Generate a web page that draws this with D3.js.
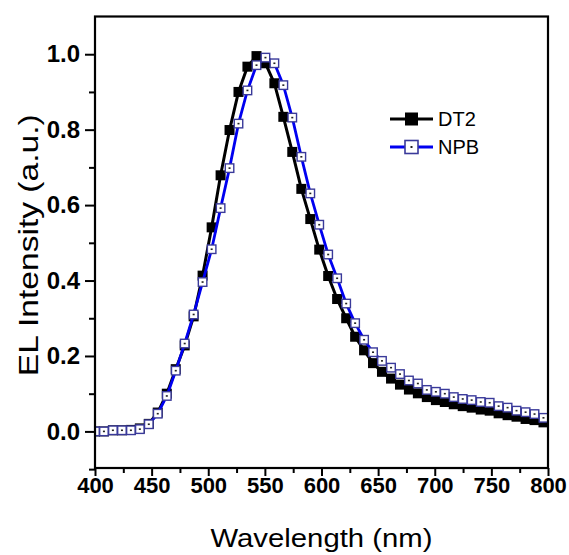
<!DOCTYPE html>
<html>
<head>
<meta charset="utf-8">
<script src="https://cdn.jsdelivr.net/npm/d3@7"></script>
<style>
  html, body { margin: 0; padding: 0; background: #fff; }
  svg { display: block; }
</style>
</head>
<body>
<svg id="chart" width="569" height="555"></svg>
<script>
// ---------------- data ----------------
const wavelength = [400, 407.9, 415.8, 423.8, 431.7, 439.6, 447.5, 455.4, 463.4, 471.3,
  479.2, 487.1, 495.0, 503.0, 510.9, 518.8, 526.7, 534.6, 542.6, 550.5,
  558.4, 566.3, 574.2, 582.2, 590.1, 598.0, 605.9, 613.8, 621.8, 629.7,
  637.6, 645.5, 653.4, 661.4, 669.3, 677.2, 685.1, 693.0, 701.0, 708.9,
  716.8, 724.7, 732.6, 740.6, 748.5, 756.4, 764.3, 772.2, 780.2, 788.1, 796.0];

const dt2 = [0.000, 0.000, 0.003, 0.003, 0.004, 0.008, 0.020, 0.050, 0.100, 0.165,
  0.228, 0.305, 0.413, 0.541, 0.679, 0.799, 0.900, 0.967, 0.995, 0.976,
  0.923, 0.834, 0.741, 0.643, 0.563, 0.482, 0.412, 0.351, 0.300, 0.251,
  0.215, 0.181, 0.158, 0.140, 0.124, 0.111, 0.101, 0.091, 0.083, 0.078,
  0.072, 0.067, 0.063, 0.058, 0.055, 0.048, 0.043, 0.039, 0.033, 0.030, 0.024];

const npb = [0.000, 0.000, 0.003, 0.003, 0.003, 0.006, 0.019, 0.047, 0.094, 0.161,
  0.233, 0.310, 0.396, 0.483, 0.592, 0.698, 0.816, 0.904, 0.971, 0.991,
  0.976, 0.918, 0.832, 0.728, 0.631, 0.548, 0.469, 0.406, 0.339, 0.287,
  0.243, 0.210, 0.187, 0.169, 0.152, 0.135, 0.127, 0.110, 0.105, 0.100,
  0.091, 0.086, 0.083, 0.078, 0.076, 0.067, 0.063, 0.055, 0.051, 0.046, 0.036];

const seriesNames = ["DT2", "NPB"];
const xMajorTicks = [400, 450, 500, 550, 600, 650, 700, 750, 800];
const xMinorTicks = [425, 475, 525, 575, 625, 675, 725, 775];
const yMajorTicks = [0.0, 0.2, 0.4, 0.6, 0.8, 1.0];
const yMinorTicks = [-0.1, 0.1, 0.3, 0.5, 0.7, 0.9];
const xTitle = "Wavelength (nm)";
const yTitle = "EL Intensity (a.u.)";

// ---------------- layout ----------------
const svg = d3.select("#chart");
const L = 95, R = 548, T = 16.5, B = 468;
const x = d3.scaleLinear().domain([400, 800]).range([L, R]);
const y = d3.scaleLinear().domain([-0.097, 1.1]).range([B, T]);

const fontFam = "'Liberation Sans', Arial, Helvetica, sans-serif";

// axes
const xAxisMajor = d3.axisBottom(x).tickValues(xMajorTicks).tickFormat(d3.format("d")).tickSize(8).tickSizeOuter(0).tickPadding(1);
const xAxisMinor = d3.axisBottom(x).tickValues(xMinorTicks).tickFormat("").tickSize(5).tickSizeOuter(0);
const yAxisMajor = d3.axisLeft(y).tickValues(yMajorTicks).tickFormat(d3.format(".1f")).tickSize(10).tickSizeOuter(0).tickPadding(5);
const yAxisMinor = d3.axisLeft(y).tickValues(yMinorTicks).tickFormat("").tickSize(6).tickSizeOuter(0);

function styleAxis(g, fs) {
  g.select(".domain").remove();
  g.selectAll(".tick line").attr("stroke", "#000").attr("stroke-width", 2);
  g.selectAll(".tick text").attr("fill", "#000").style("font-family", fontFam)
    .style("font-weight", "bold").style("font-size", fs + "px");
}

svg.append("g").attr("transform", `translate(0,${B})`).call(xAxisMinor).call(g => styleAxis(g, 22));
svg.append("g").attr("transform", `translate(0,${B})`).call(xAxisMajor).call(g => styleAxis(g, 22));
svg.append("g").attr("transform", `translate(${L},0)`).call(yAxisMinor).call(g => styleAxis(g, 24));
svg.append("g").attr("transform", `translate(${L},0)`).call(yAxisMajor).call(g => styleAxis(g, 24));

// clip
svg.append("clipPath").attr("id", "clip").append("rect")
  .attr("x", L).attr("y", T).attr("width", R - L).attr("height", B - T);

const plot = svg.append("g").attr("clip-path", "url(#clip)");
const line = d3.line().x(d => x(d[0])).y(d => y(d[1]));

const dtData = wavelength.map((w, i) => [w, dt2[i]]);
const npData = wavelength.map((w, i) => [w, npb[i]]);

// DT2 line + filled squares
plot.append("path").datum(dtData).attr("d", line)
  .attr("fill", "none").attr("stroke", "#000").attr("stroke-width", 3).attr("stroke-linejoin", "round");
const sq = 10;
plot.selectAll("rect.dt").data(dtData).enter().append("rect").attr("class", "dt")
  .attr("x", d => x(d[0]) - sq / 2).attr("y", d => y(d[1]) - sq / 2)
  .attr("width", sq).attr("height", sq).attr("fill", "#000");

// NPB line + open squares
plot.append("path").datum(npData).attr("d", line)
  .attr("fill", "none").attr("stroke", "#0000f0").attr("stroke-width", 2.8).attr("stroke-linejoin", "round");
const sq2 = 8.5;
plot.selectAll("rect.np").data(npData).enter().append("rect").attr("class", "np")
  .attr("x", d => x(d[0]) - sq2 / 2).attr("y", d => y(d[1]) - sq2 / 2)
  .attr("width", sq2).attr("height", sq2).attr("fill", "#fff")
  .attr("stroke", "#3a3a9a").attr("stroke-width", 1.4);
plot.selectAll("rect.npdot").data(npData).enter().append("rect").attr("class", "npdot")
  .attr("x", d => x(d[0]) - 1).attr("y", d => y(d[1]) - 0.8)
  .attr("width", 2).attr("height", 1.6).attr("fill", "#222");

// frame
svg.append("rect").attr("x", L).attr("y", T).attr("width", R - L).attr("height", B - T)
  .attr("fill", "none").attr("stroke", "#000").attr("stroke-width", 2.2);

// legend
const legend = svg.append("g");
const lgY = [119, 147];
const lgColors = ["#000", "#0000f0"];
seriesNames.forEach((name, i) => {
  const gy = lgY[i];
  legend.append("line").attr("x1", 390).attr("x2", 433).attr("y1", gy).attr("y2", gy)
    .attr("stroke", lgColors[i]).attr("stroke-width", i === 0 ? 3 : 2.8);
  if (i === 0) {
    legend.append("rect").attr("x", 411.5 - 6.5).attr("y", gy - 6.5).attr("width", 13).attr("height", 13).attr("fill", "#000");
  } else {
    legend.append("rect").attr("x", 411.5 - 6.5).attr("y", gy - 6.5).attr("width", 13).attr("height", 13)
      .attr("fill", "#fff").attr("stroke", "#3a3a9a").attr("stroke-width", 1.6);
    legend.append("rect").attr("x", 410.5).attr("y", gy - 1).attr("width", 2).attr("height", 2).attr("fill", "#222");
  }
  legend.append("text").attr("x", 438).attr("y", gy + 7).text(name)
    .style("font-family", fontFam).style("font-size", "20px").attr("fill", "#000");
});

// titles
svg.append("text").attr("x", (L + R) / 2).attr("y", 547).attr("text-anchor", "middle")
  .attr("textLength", 222).attr("lengthAdjust", "spacingAndGlyphs")
  .text(xTitle).style("font-family", fontFam).style("font-size", "26px").attr("fill", "#000");
svg.append("text").attr("transform", `translate(38,${(T + B) / 2 + 3}) rotate(-90)`).attr("text-anchor", "middle")
  .attr("textLength", 262).attr("lengthAdjust", "spacingAndGlyphs")
  .text(yTitle).style("font-family", fontFam).style("font-size", "28px").attr("fill", "#000");
</script>
</body>
</html>
